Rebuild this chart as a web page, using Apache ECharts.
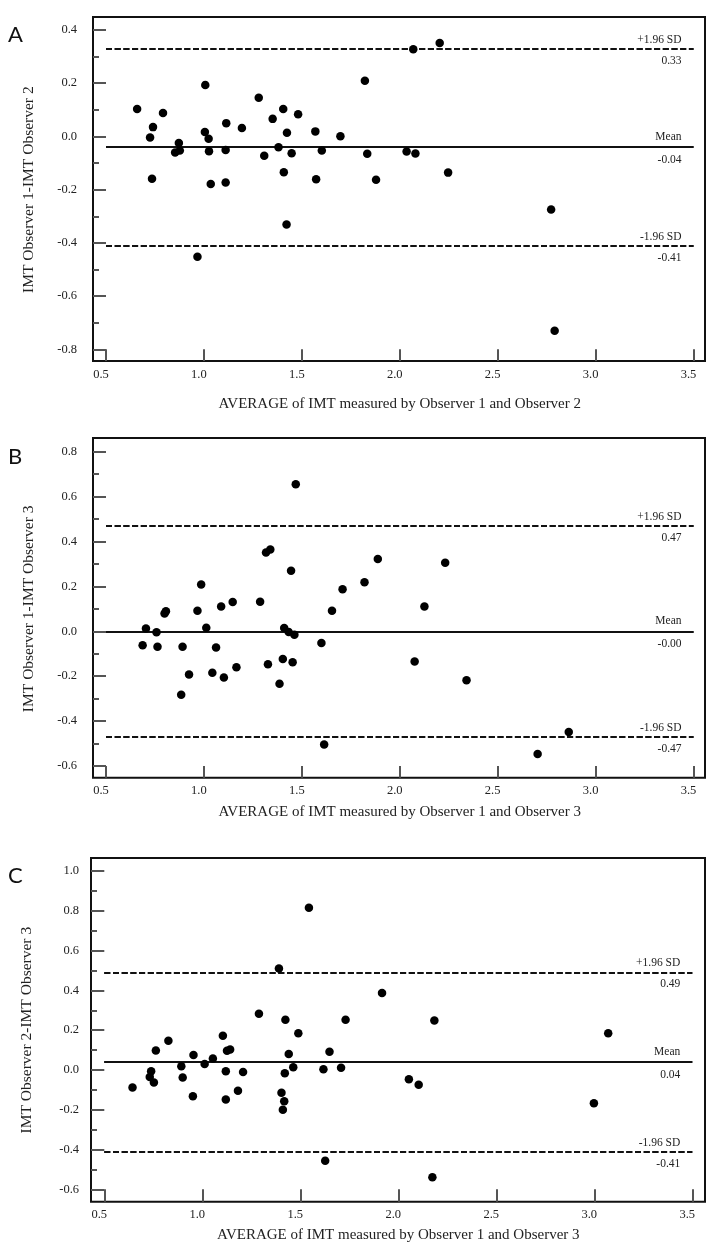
<!DOCTYPE html>
<html><head><meta charset="utf-8">
<script src="https://cdn.jsdelivr.net/npm/echarts@6/dist/echarts.min.js"></script>
<style>html,body{margin:0;padding:0;background:#fff}#c{width:726px;height:1252px}</style>
</head><body><div id="c"></div>
<script>
// ---- data ----
const avgA = [0.659,0.725,0.740,0.791,0.735,0.853,0.872,0.877,1.007,1.005,1.024,1.026,1.035,1.114,1.111,1.111,1.194,1.280,1.308,1.351,1.381,1.405,1.424,1.408,1.448,1.481,1.569,1.573,1.602,1.697,1.822,1.834,1.879,2.035,2.080,2.069,2.204,2.247,2.773,1.422,0.967,2.791];
const diffA = [0.103,-0.004,0.035,0.088,-0.159,-0.060,-0.025,-0.053,0.193,0.017,-0.009,-0.056,-0.179,0.050,-0.051,-0.173,0.032,0.145,-0.073,0.066,-0.041,0.103,0.014,-0.135,-0.063,0.083,0.019,-0.161,-0.053,0.001,0.209,-0.065,-0.163,-0.057,-0.064,0.328,0.351,-0.136,-0.275,-0.331,-0.452,-0.730];
const avgB = [1.469,1.317,1.339,1.445,1.888,2.232,0.986,1.708,1.820,0.704,0.687,0.758,0.763,0.799,0.806,0.884,0.891,0.924,0.967,1.012,1.043,1.062,1.088,1.102,1.147,1.166,1.287,1.327,1.386,1.403,1.410,1.433,1.462,1.453,1.600,1.614,1.654,2.076,2.126,2.341,2.704,2.863];
const diffB = [0.655,0.351,0.364,0.270,0.322,0.305,0.208,0.187,0.219,0.013,-0.062,-0.004,-0.069,0.079,0.089,-0.283,-0.069,-0.192,0.092,0.016,-0.185,-0.072,0.110,-0.206,0.131,-0.160,0.132,-0.147,-0.234,-0.123,0.015,-0.003,-0.015,-0.138,-0.052,-0.504,0.092,-0.135,0.111,-0.218,-0.547,-0.449];
const avgC = [1.544,1.391,1.917,1.289,1.424,1.731,2.184,3.071,1.490,1.105,0.827,0.763,1.126,1.142,0.955,1.441,1.649,1.054,1.012,0.893,1.464,1.618,1.708,0.739,0.732,0.753,0.644,0.900,1.120,1.208,1.421,0.952,1.120,1.182,1.404,1.418,1.411,2.054,2.104,2.998,1.627,2.174];
const diffC = [0.815,0.510,0.387,0.283,0.252,0.252,0.248,0.185,0.185,0.172,0.147,0.098,0.097,0.103,0.075,0.080,0.092,0.058,0.030,0.018,0.013,0.003,0.011,-0.007,-0.035,-0.063,-0.088,-0.038,-0.007,-0.010,-0.017,-0.132,-0.148,-0.105,-0.115,-0.157,-0.200,-0.047,-0.075,-0.168,-0.457,-0.540];

const panelLetters = ['A', 'B', 'C'];
const xTitles = ['AVERAGE of IMT measured by Observer 1 and Observer 2',
                 'AVERAGE of IMT measured by Observer 1 and Observer 3',
                 'AVERAGE of IMT measured by Observer 1 and Observer 3'];
const yTitles = ['IMT Observer 1-IMT Observer 2',
                 'IMT Observer 1-IMT Observer 3',
                 'IMT Observer 2-IMT Observer 3'];
const upperLimit = [0.33, 0.47, 0.49];
const meanDiff = [-0.04, 0.00, 0.04];
const lowerLimit = [-0.41, -0.47, -0.41];
const upperText = ['0.33', '0.47', '0.49'];
const meanText = ['-0.04', '-0.00', '0.04'];
const lowerText = ['-0.41', '-0.47', '-0.41'];
const upperName = '+1.96 SD', meanName = 'Mean', lowerName = '-1.96 SD';
const xMin = 0.5, xMax = 3.5, xStep = 0.5;
const yMins = [-0.8, -0.6, -0.6];
const yMaxs = [0.4, 0.8, 1.0];
const yStep = 0.2;

// ---- layout (pixels) ----
const layout = [
  { frame: {left: 93, top: 17, width: 612, height: 344}, inner: {left: 106, top: 30, width: 587.5, height: 319.3}, xOff: 11.7, yOff: 13, yMargin: 16, nameGapX: 36, letterTop: 24 },
  { frame: {left: 93, top: 438, width: 612, height: 339.7}, inner: {left: 106, top: 451.7, width: 587.5, height: 314.3}, xOff: 11.7, yOff: 13, yMargin: 16, nameGapX: 27, letterTop: 446 },
  { frame: {left: 91, top: 858, width: 614, height: 343.7}, inner: {left: 104.3, top: 871, width: 588, height: 318.3}, xOff: 12.4, yOff: 13.3, yMargin: 12, nameGapX: 26, letterTop: 865 }
];

const serif = '"Liberation Serif", "Times New Roman", serif';
const txt = '#222';
const datasets = [[avgA, diffA], [avgB, diffB], [avgC, diffC]];

const grid = [], xAxis = [], yAxis = [], series = [], title = [];
layout.forEach((L, i) => {
  grid.push(Object.assign({ show: false, containLabel: false }, L.inner));
});
layout.forEach((L, i) => {
  grid.push(Object.assign({ show: true, containLabel: false, borderColor: '#111', borderWidth: 2, backgroundColor: 'transparent', z: 0 }, L.frame));
});

layout.forEach((L, i) => {
  xAxis.push({
    type: 'value', gridIndex: i, min: xMin, max: xMax, interval: xStep,
    position: 'bottom', offset: L.xOff,
    axisLine: { show: false, onZero: false },
    axisTick: { show: true, inside: true, length: L.xOff, lineStyle: { color: '#555', width: 2 } },
    splitLine: { show: false },
    axisLabel: { margin: 7, color: txt, fontFamily: serif, fontSize: 12.5, padding: [0, 10, 0, 0], formatter: v => v.toFixed(1) },
    name: xTitles[i], nameLocation: 'middle', nameGap: L.nameGapX, nameMoveOverlap: false,
    nameTextStyle: { color: txt, fontFamily: serif, fontSize: 15 }
  });
  yAxis.push({
    type: 'value', gridIndex: i, min: yMins[i], max: yMaxs[i], interval: yStep,
    position: 'left', offset: L.yOff,
    axisLine: { show: false, onZero: false },
    axisTick: { show: true, inside: true, length: L.yOff, lineStyle: { color: '#555', width: 2 } },
    minorTick: { show: true, splitNumber: 2, length: 6, lineStyle: { color: '#555', width: 2 } },
    splitLine: { show: false }, minorSplitLine: { show: false },
    axisLabel: { margin: L.yMargin, color: txt, fontFamily: serif, fontSize: 12.5, formatter: v => v.toFixed(1) },
    name: yTitles[i], nameLocation: 'middle', nameGap: 56, nameRotate: 90, nameMoveOverlap: false,
    nameTextStyle: { color: txt, fontFamily: serif, fontSize: 15.5 }
  });
});
layout.forEach((L, i) => {
  xAxis.push({ type: 'value', gridIndex: 3 + i, show: false, min: 0, max: 1 });
  yAxis.push({ type: 'value', gridIndex: 3 + i, show: false, min: 0, max: 1 });
});

function refLine(value, text, pos, dist, dashed) {
  return {
    yAxis: value,
    lineStyle: { color: '#111', width: 2, type: dashed ? [6, 2.7] : 'solid', opacity: 1 },
    label: { show: true, position: pos, formatter: text, distance: dist, color: txt, fontFamily: serif, fontSize: 11.5 }
  };
}

layout.forEach((L, i) => {
  const [xs, ys] = datasets[i];
  series.push({
    type: 'scatter', xAxisIndex: i, yAxisIndex: i,
    data: xs.map((x, k) => [x, ys[k]]),
    symbol: 'circle', symbolSize: 8.5,
    itemStyle: { color: '#000', opacity: 1 },
    silent: true, clip: false, z: 3,
    markLine: {
      silent: true, symbol: 'none', animation: false, z: 2,
      data: [
        refLine(upperLimit[i], upperName, 'insideEndTop', [12, 3], true),
        refLine(upperLimit[i], upperText[i], 'insideEndBottom', [12, 6], true),
        refLine(meanDiff[i], meanName, 'insideEndTop', [12, 4], false),
        refLine(meanDiff[i], meanText[i], 'insideEndBottom', [12, 7], false),
        refLine(lowerLimit[i], lowerName, 'insideEndTop', [12, 3], true),
        refLine(lowerLimit[i], lowerText[i], 'insideEndBottom', [12, 6], true)
      ]
    }
  });
  title.push({
    text: panelLetters[i], left: 8, top: L.letterTop, padding: 0,
    textStyle: { fontFamily: 'Lato, "Open Sans", sans-serif', fontSize: 22, fontWeight: 'normal', color: '#111' }
  });
});

const chart = echarts.init(document.getElementById('c'), null, { renderer: 'canvas' });
chart.setOption({
  animation: false, backgroundColor: '#fff',
  title, grid, xAxis, yAxis, series
});
</script></body></html>
